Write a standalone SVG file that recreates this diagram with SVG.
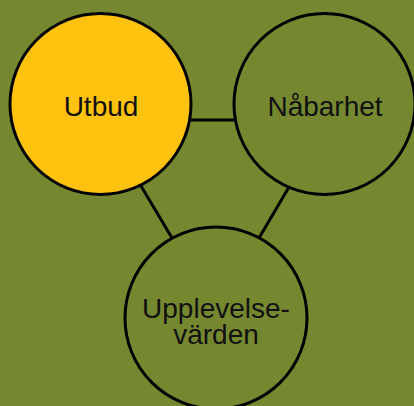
<svg xmlns="http://www.w3.org/2000/svg" width="414" height="406" viewBox="0 0 414 406">
<style>
.n{stroke:#000;stroke-width:3}
.t{font-family:"Liberation Sans",Arial,sans-serif;font-size:28px;fill:#111;text-anchor:middle}
.c line{stroke:#000;stroke-width:3}
</style>
<rect width="414" height="406" fill="#758830"/>
<g class="c">
<line x1="190" y1="120" x2="236" y2="120"/>
<line x1="141" y1="186" x2="172" y2="238"/>
<line x1="289" y1="187" x2="259" y2="238"/>
</g>
<g id="utbud">
<circle class="n" cx="100.5" cy="104" r="90.5" fill="#FFC20E"/>
<text class="t" x="101" y="116">Utbud</text>
</g>
<g id="nabarhet">
<circle class="n" cx="324.5" cy="104" r="90.5" fill="#758830"/>
<text class="t" x="325" y="116">Nåbarhet</text>
</g>
<g id="upplevelsevarden">
<circle class="n" cx="216" cy="318" r="91" fill="#758830"/>
<text class="t" x="216" y="318">Upplevelse-</text>
<text class="t" x="216" y="344">värden</text>
</g>
</svg>
